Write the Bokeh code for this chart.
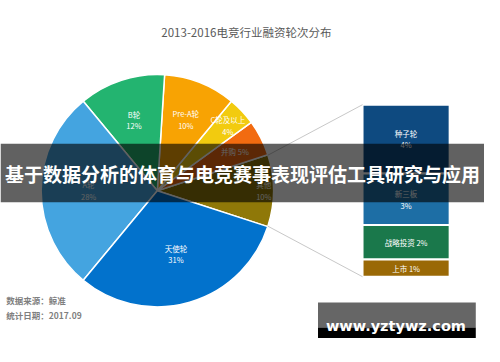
import math
from bokeh.plotting import figure
from bokeh.models import Range1d
from bokeh.core.properties import value
from bokeh.embed import file_html
from bokeh.resources import INLINE

# ---------------- data ----------------
title_text = "2013-2016电竞行业融资轮次分布"
pie_labels = ["其他", "并购", "C轮及以上", "Pre-A轮", "B轮", "A轮", "天使轮"]
pie_values = [10, 5, 4, 10, 12, 28, 31]
bar_labels = ["种子轮", "新三板", "战略投资", "上市"]
bar_values = [4, 3, 2, 1]
source_lines = ["数据来源：鲸准", "统计日期：2017.09"]
banner_text = "基于数据分析的体育与电竞赛事表现评估工具研究与应用"
watermark_text = "www.yztywz.com"

# ---------------- styles / layout ----------------
pie_colors = ["#8F7808", "#F26B10", "#F2CB0F", "#F8A303", "#23B470", "#44A4E0", "#0272CC"]
bar_colors = ["#0E4A80", "#1D6EA5", "#1A784B", "#9A6906"]
label_radius = [110, 90, 100, 80, 78, 71, 69]
single_line_pie = [False, True, False, False, False, False, False]
single_line_bar = [False, False, True, True]

W, H = 500, 362
PW, PH = 484, 346
CJK = value("Noto Sans CJK SC")


def Y(y):
    return H - y


p = figure(width=PW, height=PH, output_backend="svg",
           toolbar_location=None, x_range=Range1d(0, W),
           y_range=Range1d(0, H), x_axis_type=None, y_axis_type=None,
           min_border=0, background_fill_color="white",
           border_fill_color="white")
p.outline_line_color = None
p.grid.visible = False

# title
p.text(x=[254], y=[Y(33)], text=[title_text], text_font=CJK,
       text_font_size="11.5px", text_color="#595959", text_align="center",
       text_baseline="middle")

# ---------------- pie ----------------
cx, cy, R = 162, Y(199), 120
total = sum(pie_values)
start = -pie_values[0] / total * math.pi
starts, ends = [], []
a = start
for v in pie_values:
    starts.append(a)
    a += v / total * 2 * math.pi
    ends.append(a)

p.wedge(x=[cx] * len(pie_values), y=[cy] * len(pie_values), radius=R,
        start_angle=starts, end_angle=ends, direction="anticlock",
        fill_color=pie_colors, line_color="white", line_width=1.5)

for lab, v, s, e, r, single in zip(pie_labels, pie_values, starts, ends,
                                    label_radius, single_line_pie):
    mid = (s + e) / 2
    lx = cx + r * math.cos(mid)
    ly = cy + r * math.sin(mid)
    if single:
        p.text(x=[lx], y=[ly], text=[f"{lab} {v}%"], text_font=CJK,
               text_font_size="7.5px", text_color="white",
               text_align="center", text_baseline="middle")
    else:
        p.text(x=[lx, lx], y=[ly + 6, ly - 6], text=[lab, f"{v}%"],
               text_font=CJK, text_font_size="7.5px", text_color="white",
               text_align="center", text_baseline="middle")

# ---------------- bar of pie ----------------
bx0, bx1, btop, bbot = 374, 464, 109, 289
unit = (bbot - btop) / sum(bar_values)
tops, bots = [], []
yy = btop
for v in bar_values:
    tops.append(Y(yy))
    yy += v * unit
    bots.append(Y(yy))
p.quad(left=[bx0] * 4, right=[bx1] * 4, top=tops, bottom=bots,
       fill_color=bar_colors, line_color="white", line_width=2)

for lab, v, t, b, single in zip(bar_labels, bar_values, tops, bots, single_line_bar):
    my = (t + b) / 2
    mx = (bx0 + bx1) / 2
    if single:
        p.text(x=[mx], y=[my], text=[f"{lab} {v}%"], text_font=CJK,
               text_font_size="7.5px", text_color="white",
               text_align="center", text_baseline="middle")
    else:
        p.text(x=[mx, mx], y=[my + 6, my - 6], text=[lab, f"{v}%"],
               text_font=CJK, text_font_size="7.5px", text_color="white",
               text_align="center", text_baseline="middle")

# connector lines
e_top = (cx + R * math.cos(ends[0]), cy + R * math.sin(ends[0]))
e_bot = (cx + R * math.cos(starts[0]), cy + R * math.sin(starts[0]))
p.segment(x0=[e_top[0], e_bot[0]], y0=[e_top[1], e_bot[1]],
          x1=[bx0, bx0], y1=[Y(btop), Y(bbot)],
          line_color="#C8C8C8", line_width=1)

# source notes
p.text(x=[6, 6], y=[Y(313), Y(329)], text=source_lines, text_font=CJK,
       text_font_size="8.5px", text_font_style="bold", text_color="#7F7F7F",
       text_align="left", text_baseline="middle")

# ---------------- overlay banner ----------------
p.quad(left=[0], right=[W], top=[Y(150)], bottom=[Y(211)],
       fill_color="black", fill_alpha=0.62, line_color=None)
p.text(x=[W / 2], y=[Y(181)], text=[banner_text], text_font=CJK,
       text_font_size="19px", text_font_style="bold", text_color="white",
       text_align="center", text_baseline="middle")

# watermark box
p.quad(left=[328], right=[491], top=[Y(316)], bottom=[Y(342)],
       fill_color="#666666", line_color=None)
p.quad(left=[328], right=[491], top=[Y(342)], bottom=[Y(353)],
       fill_color="black", line_color=None)
p.text(x=[408.5], y=[Y(341)], text=[watermark_text],
       text_font=value("DejaVu Sans"), text_font_size="14.5px",
       text_font_style="bold", text_color="white", text_align="center",
       text_baseline="alphabetic")

open("out.html", "w").write(file_html(p, INLINE))
